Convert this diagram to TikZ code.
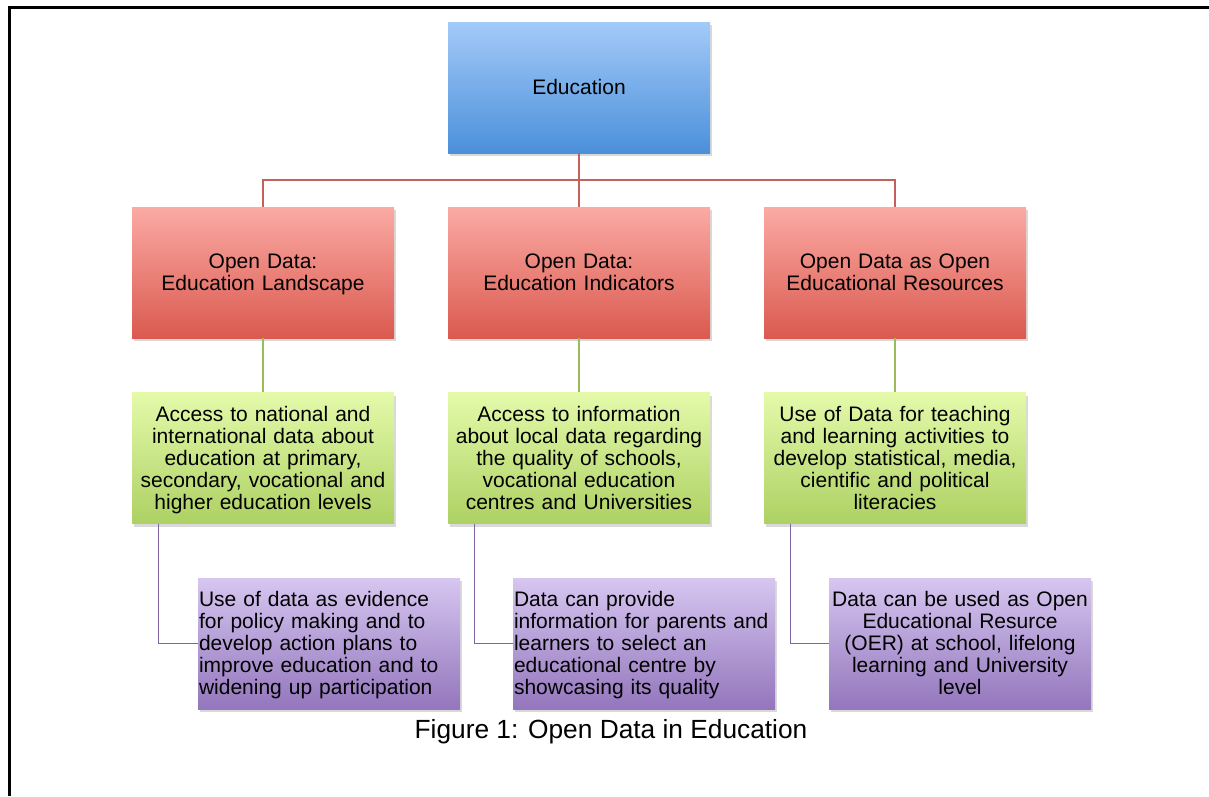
\documentclass[tikz,border=0pt]{standalone}
\usepackage{fontspec}
\setmainfont{Liberation Sans}
\usetikzlibrary{shadows,calc}

\definecolor{blueTop}{HTML}{A3CAF8}
\definecolor{blueBot}{HTML}{4B90DA}
\definecolor{redTop}{HTML}{FBAAA4}
\definecolor{redBot}{HTML}{DA5A4F}
\definecolor{greenTop}{HTML}{E4FAAA}
\definecolor{greenBot}{HTML}{ADD163}
\definecolor{purpleTop}{HTML}{D6C6F0}
\definecolor{purpleBot}{HTML}{9376BC}
\definecolor{redLine}{HTML}{C3615B}
\definecolor{greenLine}{HTML}{9BBB59}
\definecolor{purpleLine}{HTML}{8064A2}

\begin{document}
\begin{tikzpicture}[x=1pt,y=-1pt]
	\tikzset{box/.style={minimum width=262pt,minimum height=131pt,inner xsep=1pt,inner ysep=0pt,text width=260pt,align=center,font=\fontsize{21}{22}\selectfont,execute at begin node=\rule{0pt}{18.4pt},execute at end node=\rule[-3.6pt]{0pt}{3.6pt},drop shadow={opacity=0.3,shadow xshift=2pt,shadow yshift=-3pt}},
		bluebox/.style={box,top color=blueTop,bottom color=blueBot},
		redbox/.style={box,top color=redTop,bottom color=redBot},
		greenbox/.style={box,top color=greenTop,bottom color=greenBot},
		purplebox/.style={box,top color=purpleTop,bottom color=purpleBot}};
	\useasboundingbox (0,0) rectangle (1209,796);
	\draw[line width=3pt] (1209,7.5) -- (9.5,7.5) -- (9.5,796);
	% top
	\node (Edu) at (579,87.5) [bluebox]{Education};
	% open data
	\node (L1) at (263,272.5) [redbox]{Open Data:\\Education Landscape};
	\node (L2) at (579,272.5) [redbox]{Open Data:\\Education Indicators};
	\node (L3) at (895,272.5) [redbox]{Open Data as Open\\Educational Resources};
	% access
	\node (A1) at (263,458) [greenbox]{Access to national and\\international data about\\education at primary,\\secondary, vocational and\\higher education levels};
	\node (A2) at (579,458) [greenbox]{Access to information\\about local data regarding\\the quality of schools,\\vocational education\\centres and Universities};
	\node (A3) at (895,458) [greenbox]{Use of Data for teaching\\and learning activities to\\develop statistical, media,\\cientific and political\\literacies};
	% use
	\node (U1) at (329,643.5) [purplebox,align=left]{Use of data as evidence\\for policy making and to\\develop action plans to\\improve education and to\\widening up participation};
	\node (U2) at (644,643.5) [purplebox,align=left]{Data can provide\\information for parents and\\learners to select an\\educational centre by\\showcasing its quality};
	\node (U3) at (960,643.5) [purplebox]{Data can be used as Open\\Educational Resurce\\(OER) at school, lifelong\\learning and University\\level};
	\node (Cap) at (611,738) [anchor=base,font=\fontsize{26.3}{28}\selectfont]{Figure 1: Open Data in Education};
	\draw[redLine,line width=1.5pt] (Edu.south) -- ++(0,27) -| (L1.north);
	\draw[redLine,line width=1.5pt] (Edu.south) -- ++(0,27) -| (L3.north);
	\draw[redLine,line width=1.5pt] (Edu.south) -- (L2.north);
	\foreach \i in {1,2,3}{
		\draw[greenLine,line width=1.2pt] (L\i.south) -- (A\i.north);
		\draw[purpleLine,line width=1.5pt] ($(A\i.south west)+(26.5,0)$) |- (U\i.west);
	}
\end{tikzpicture}
\end{document}
